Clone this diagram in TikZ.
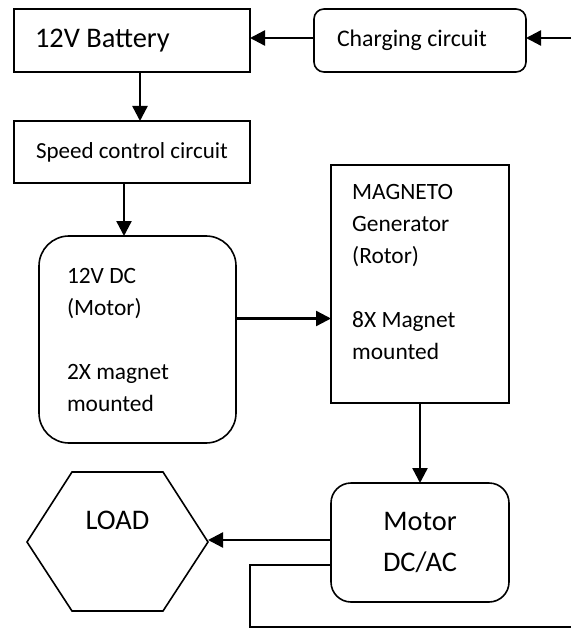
\documentclass[tikz,border=0pt]{standalone}
\usepackage{fontspec}
\setmainfont{Carlito}
\usetikzlibrary{arrows.meta, positioning}

\begin{document}
\begin{tikzpicture}[
    x=1pt, y=-1pt,
    box/.style  ={draw, line width=1.6pt, outer sep=0pt, inner sep=0pt},
    big/.style  ={font=\fontsize{28.4}{41}\selectfont},
    mid/.style  ={font=\fontsize{23.8}{30}\selectfont},
    small/.style={font=\fontsize{23.4}{32}\selectfont},
    flow/.style ={-{Triangle[length=15pt, width=15pt]}, line width=2.4pt},
    fb/.style   ={line width=1.4pt},
]
\useasboundingbox (0,0) rectangle (571,628);
\node[box, big, minimum width=236pt, minimum height=63pt,
      text width=194pt, align=flush left] (batt) at (132,40.5) {12V Battery};
\node[box, mid, rounded corners=10pt, minimum width=212pt, minimum height=63pt,
      text width=166pt, align=flush left, right=64pt of batt] (charge) {Charging circuit};
\node[box, font=\fontsize{23}{28}\selectfont, minimum width=236pt,
      minimum height=62pt, below=49pt of batt] (speed) {Speed control circuit};
\node[box, small, rounded corners=30pt, minimum width=197pt, minimum height=207pt,
      text width=141pt, align=flush left, below=53pt of speed, xshift=5.5pt] (motor)
  {12V DC\\(Motor)\\[32pt]2X magnet\\mounted};
\node[box, minimum width=178pt, minimum height=238pt, below=93pt of charge] (mag) {};
\node[small, align=left, anchor=north west, inner sep=0pt] (magtxt)
  at ([shift={(21pt,-19.5pt)}]mag.north west)
  {MAGNETO\\Generator\\(Rotor)\\[32pt]8X Magnet\\mounted};
\node[box, big, rounded corners=20pt, minimum width=178pt, minimum height=119pt,
      align=center, below=80pt of mag] (dcac) {Motor\\DC/AC};
% the load
\draw[line width=1.6pt] (27,542) -- (72,472) -- (163,472) -- (208,542)
  -- (163,611) -- (72,611) -- cycle;
\node[big, inner sep=0pt] (load) at (117.5,520) {LOAD};
\coordinate (loadtip) at (208,540);
\coordinate (rin) at (571,38);
\coordinate (fbcorner) at (250,627);
\coordinate (fbend) at (571,627);
\draw[flow] (rin) -- (charge.east |- rin);
\draw[flow] (charge.west |- rin) -- (batt.east |- rin);
\draw[flow] ([xshift=8pt]batt.south) -- ([xshift=8pt]speed.north);
\draw[flow] ([xshift=-8pt]speed.south) -- ([xshift=-8pt]speed.south |- motor.north);
\draw[flow] ([yshift=21pt]motor.east) -- ([yshift=21pt]motor.east -| mag.west);
\draw[flow] (mag.south) -- (dcac.north);
\draw[flow] (dcac.west |- loadtip) -- (loadtip);
\draw[fb] ([yshift=-22.5pt]dcac.west) -| (fbcorner) -- (fbend);
\end{tikzpicture}
\end{document}
